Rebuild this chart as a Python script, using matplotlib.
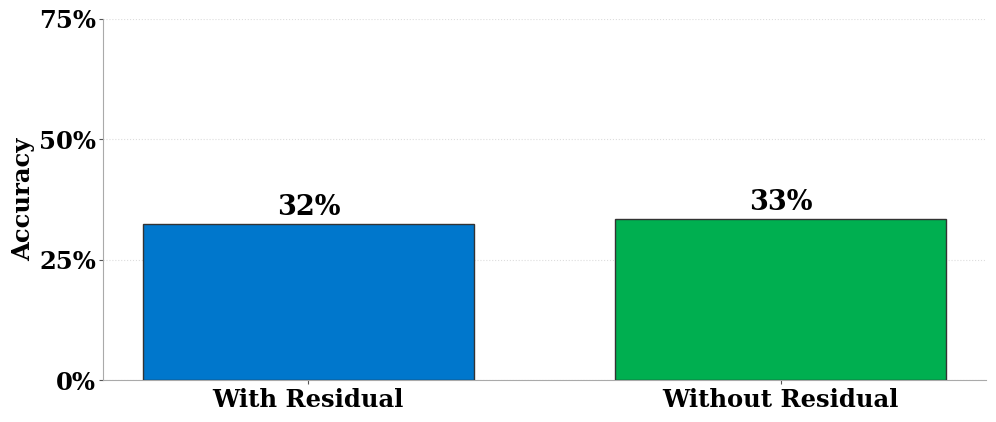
import os
import numpy as np
import matplotlib as mpl
import matplotlib.pyplot as plt
from matplotlib.font_manager import FontProperties

# data
categories = ['With Residual', 'Without Residual']
accuracy = [0.324, 0.334]
bar_colors = ['#0077CC', '#00AF50']
yticks = [0, 0.25, 0.5, 0.75]
ytick_labels = ['0%', '25%', '50%', '75%']

# use bundled bold serif font file directly
bold_path = os.path.join(mpl.get_data_path(), 'fonts', 'ttf', 'DejaVuSerif-Bold.ttf')
def fp(size):
    return FontProperties(fname=bold_path, size=size)

fig = plt.figure(figsize=(9.96, 4.22), dpi=100)
ax = fig.add_axes([0.1034, 0.0995, 0.8866, 0.8555])

x = np.arange(len(categories))
bars = ax.bar(x, accuracy, width=0.7, color=bar_colors, edgecolor='#333333', linewidth=1, zorder=3)

for b, v in zip(bars, accuracy):
    ax.text(b.get_x() + b.get_width() / 2, v + 0.007, f'{v*100:.0f}%',
            ha='center', va='bottom', fontproperties=fp(19.5))

ax.set_ylim(0, 0.75)
ax.set_yticks(yticks)
ax.set_yticklabels(ytick_labels, fontproperties=fp(17.5))
ax.set_xticks(x)
ax.set_xticklabels(categories, fontproperties=fp(17.5))
ax.set_ylabel('Accuracy', fontproperties=fp(17.5), labelpad=3)

ax.grid(axis='y', linestyle=':', color='#dddddd', linewidth=0.8, zorder=0)
ax.spines['top'].set_visible(False)
ax.spines['right'].set_visible(False)
ax.spines['left'].set_color('#aaaaaa')
ax.spines['bottom'].set_color('#aaaaaa')
ax.tick_params(axis='both', length=3, color='#555555', pad=2)
ax.tick_params(axis='x', pad=3)

plt.savefig('out.png', dpi=100)
